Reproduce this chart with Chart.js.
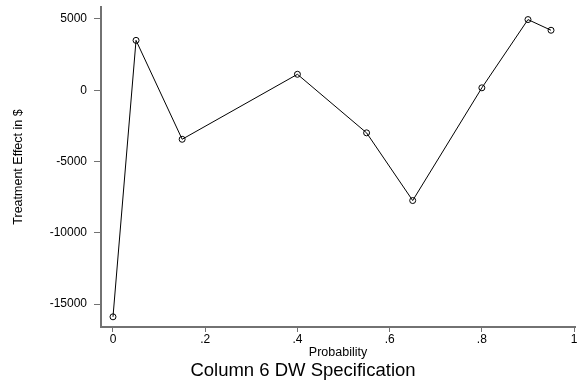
<!DOCTYPE html>
<html>
<head>
<meta charset="utf-8">
<script src="https://cdn.jsdelivr.net/npm/chart.js@4"></script>
<style>
  html, body { margin: 0; padding: 0; background: #ffffff; }
  #c { display: block; }
</style>
</head>
<body>
<canvas id="c" width="579" height="386"></canvas>
<script>
// ---- data ----
const probabilities = [0, 0.05, 0.15, 0.4, 0.55, 0.65, 0.8, 0.9, 0.95];
const treatmentEffects = [-15900, 3500, -3440, 1120, -2990, -7740, 170, 4960, 4210];
const xTickValues = [0, 0.2, 0.4, 0.6, 0.8, 1];
const yTickValues = [-15000, -10000, -5000, 0, 5000];
const xAxisTitle = 'Probability';
const yAxisTitle = 'Treatment Effect in $';
const chartTitle = 'Column 6 DW Specification';

const FONT = '"Liberation Sans", Arial, Helvetica, sans-serif';
const AXIS_GREY = '#727272';

const points = probabilities.map((p, i) => ({ x: p, y: treatmentEffects[i] }));

const bottomTitle = {
  id: 'bottomTitle',
  afterDraw(chart) {
    const ctx = chart.ctx;
    ctx.save();
    ctx.font = '18.5px ' + FONT;
    ctx.fillStyle = '#000';
    ctx.textAlign = 'center';
    ctx.textBaseline = 'alphabetic';
    ctx.fillText(chartTitle, 303, 376);
    ctx.restore();
  }
};

new Chart(document.getElementById('c'), {
  type: 'scatter',
  data: {
    datasets: [{
      data: points,
      showLine: true,
      borderColor: '#000',
      borderWidth: 1,
      tension: 0,
      pointRadius: 3,
      pointHoverRadius: 3,
      pointBorderWidth: 1,
      pointBorderColor: '#000',
      pointBackgroundColor: 'rgba(0,0,0,0)',
      clip: false
    }]
  },
  options: {
    responsive: false,
    devicePixelRatio: 1,
    animation: false,
    layout: { padding: { top: 7, right: 4, left: 0, bottom: 0 } },
    plugins: {
      legend: { display: false },
      tooltip: { enabled: false },
      title: { display: false }
    },
    scales: {
      x: {
        type: 'linear',
        min: -0.026,
        max: 1.002,
        afterBuildTicks(scale) { scale.ticks = xTickValues.map(v => ({ value: v })); },
        afterFit(scale) { scale.height = 59; scale.paddingLeft = 0; scale.paddingRight = 0; },
        ticks: {
          color: '#000',
          font: { family: FONT, size: 12 },
          padding: 0,
          maxRotation: 0,
          autoSkip: false,
          callback: (v) => String(v).replace(/^0\./, '.').replace(/^-0\./, '-.')
        },
        grid: { display: true, drawOnChartArea: false, drawTicks: true, tickLength: 5, color: AXIS_GREY, lineWidth: 1 },
        border: { display: true, color: AXIS_GREY, width: 2 },
        title: {
          display: true,
          text: xAxisTitle,
          color: '#000',
          font: { family: FONT, size: 12.5 },
          padding: { top: 0, bottom: 26 }
        }
      },
      y: {
        type: 'linear',
        min: -16614,
        max: 5842,
        afterBuildTicks(scale) { scale.ticks = yTickValues.map(v => ({ value: v })); },
        afterFit(scale) { scale.width = 101; scale.paddingTop = 0; scale.paddingBottom = 0; },
        ticks: {
          color: '#000',
          font: { family: FONT, size: 12 },
          padding: 7,
          autoSkip: false,
          callback: (v) => String(v)
        },
        grid: { display: true, drawOnChartArea: false, drawTicks: true, tickLength: 7, color: AXIS_GREY, lineWidth: 1 },
        border: { display: true, color: AXIS_GREY, width: 2 },
        title: {
          display: true,
          text: yAxisTitle,
          color: '#000',
          font: { family: FONT, size: 12.5 },
          padding: { top: 11, bottom: 0 }
        }
      }
    }
  },
  plugins: [bottomTitle]
});
</script>
</body>
</html>
